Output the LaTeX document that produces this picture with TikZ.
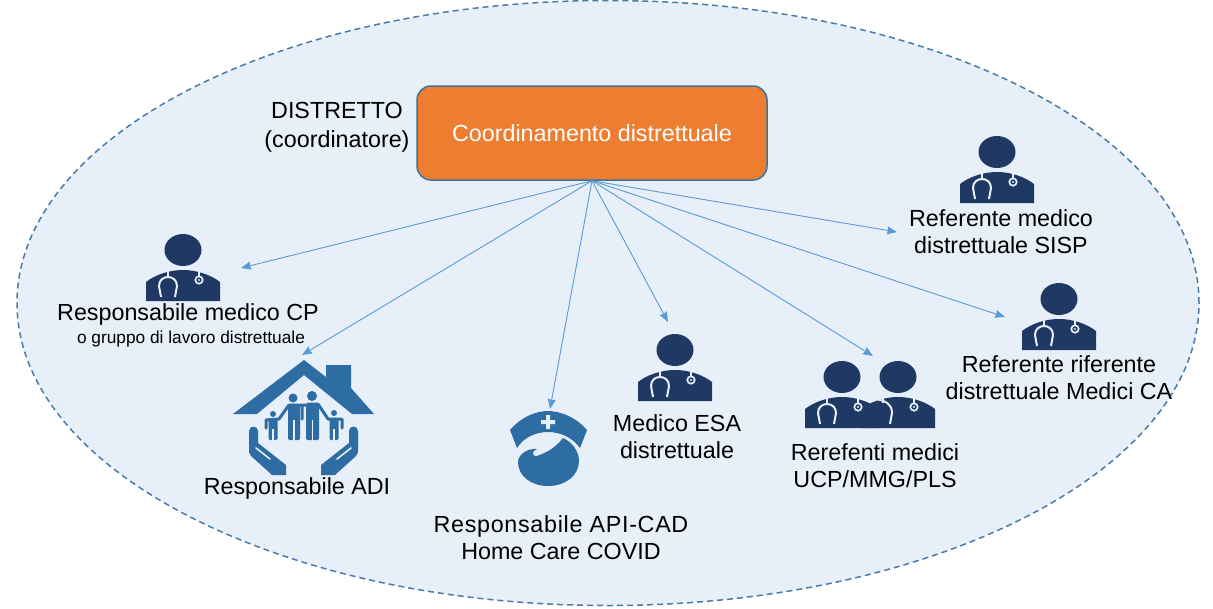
\documentclass[tikz,border=0pt]{standalone}
\usepackage{fontspec}
\setmainfont{Liberation Sans}
\usetikzlibrary{arrows.meta}
\usetikzlibrary{positioning}
\usetikzlibrary{shapes.geometric}

\definecolor{areafill}{HTML}{E7EFF8}
\definecolor{arealine}{HTML}{4A7BAA}
\definecolor{boxfill}{HTML}{ED7D31}
\definecolor{boxline}{HTML}{41719C}
\definecolor{docblue}{HTML}{1F3864}
\definecolor{iconblue}{HTML}{2E6DA4}
\definecolor{linkblue}{HTML}{5B9BD5}

\tikzset{
  lab/.style={align=center,inner sep=0pt,font=\fontsize{23.3}{27}\selectfont},
  smalllab/.style={align=center,inner sep=0pt,font=\fontsize{17.3}{20}\selectfont},
  link/.style={draw=linkblue,line width=0.9pt,->,>={Stealth[length=10pt,width=8pt,inset=1pt]}},
  gap/.style={draw=areafill,line width=2pt,fill=none},
  limb/.style={draw=iconblue,line width=#1,line cap=round,line join=round},
  slit/.style={draw=areafill,line width=1.3pt},
  pics/doctor/.style={code={
    \fill [docblue] (0,0) ellipse [x radius=18.5,y radius=16];
    \fill [docblue] (-37,51) -- (-37,32) .. controls (-28,25) and (-14,20) .. (0,20)
      .. controls (14,20) and (28,25) .. (37,32) -- (37,51) -- cycle;
  }},
  pics/scopeleft/.style={code={
    \draw [gap] (-15,20) -- (-15,27);
    \draw [gap] (-22,47) -- (-24,36) .. controls (-24,24) and (-6,24) .. (-6,36) -- (-8,47);
  }},
  pics/scoperight/.style={code={
    \draw [gap] (16,20) -- (16,27);
    \draw [draw=areafill,line width=1.7pt,fill=docblue] (16,30) circle (3.7);
    \fill [areafill] (16,30) circle (1.2);
  }}
}

\begin{document}
\begin{tikzpicture}[x=1pt,y=-1pt]

  \useasboundingbox (0,0) rectangle (1213,608);

  \node [draw=arealine,fill=areafill,dash pattern=on 6pt off 4pt,line width=1.5pt,ellipse,minimum width=1182,minimum height=605,inner sep=0pt] (area) at (608,303) {};

  \node [draw=boxline,fill=boxfill,rounded corners=14,line width=1.5pt,minimum width=350,minimum height=94,text=white,font=\fontsize{23.3}{27}\selectfont] (coord) at (592,133) {Coordinamento distrettuale};
  \node [lab] (dist) at (337,127) {DISTRETTO\\[2pt](coordinatore)};

  % doctors
  \pic (docCP) at (183,250) {doctor};
  \pic at (183,250) {scopeleft};
  \pic at (183,250) {scoperight};
  \pic (docESA) at (675,350) {doctor};
  \pic at (675,350) {scopeleft};
  \pic at (675,350) {scoperight};
  \pic (docSISP) at (997,152) {doctor};
  \pic at (997,152) {scopeleft};
  \pic at (997,152) {scoperight};
  \pic (docCA) at (1059,299) {doctor};
  \pic at (1059,299) {scopeleft};
  \pic at (1059,299) {scoperight};
  \pic (docUCPa) at (842,377) {doctor};
  \pic (docUCPb) at (898,377) {doctor};
  \pic at (842,377) {scopeleft};
  \pic at (842,377) {scoperight};
  \pic at (898,377) {scoperight};
  \draw [gap] (883,397) -- (883,403);
  \draw [gap] (876,399) .. controls (886,401) and (892,404) .. (892,413) -- (890,424);

  % house
  \fill [iconblue] (233,414) -- (304,360) -- (326,377) -- (326,365) -- (351,365) -- (351,388)
    -- (374,414) -- (352,414) -- (304,375) -- (257,414) -- cycle;
  \fill [iconblue] (293,398) circle (4.5) (312,396) circle (5) (273,414) circle (3) (334,413) circle (3);
  \fill [iconblue,rounded corners=1.5] (288,403.5) rectangle (300,440) (306,402.5) rectangle (319,440)
    (268.5,419) rectangle (277.5,440) (329.5,418) rectangle (338.5,440);
  \path [limb=3pt] (289,405) -- (279,419) -- (266,420) -- (266,428)
    (318,404) -- (328,419) -- (342,419) -- (342,428)
    (300,405) -- (306,405) (302,406) -- (302,419);
  \path [slit] (294,420) -- (294,441) (312.5,420) -- (312.5,441) (273,429) -- (273,441) (334,429) -- (334,441);
  \fill [iconblue] (249,431) arc (180:360:4.5) -- (258,443) -- (286,465) -- (286,475) -- (272,475) -- (251,456)
    .. controls (249,453) .. (249,449) -- cycle;
  \fill [iconblue] (358,431) arc (0:-180:4.5) -- (349,443) -- (321,465) -- (321,475) -- (335,475) -- (356,456)
    .. controls (358,453) .. (358,449) -- cycle;
  \draw [draw=areafill,line width=1.6pt,line cap=round] (256,448) -- (270,459) (351,448) -- (337,459);

  % nurse
  \fill [iconblue] (517,448) -- (510,430) .. controls (520,418) and (535,411) .. (548,411)
    .. controls (561,411) and (577,418) .. (587,430) -- (580,448)
    .. controls (572,437) and (560,432) .. (548,432) .. controls (536,432) and (524,437) .. (517,448) -- cycle;
  \fill [areafill] (546,415) rectangle (550,429) (541,420) rectangle (555,424);
  \fill [iconblue] (518,462) .. controls (518,455) and (527,448) .. (537,449)
    .. controls (531,451) and (532,457) .. (537,456) .. controls (548,452) and (556,447) .. (563,438)
    .. controls (572,442) and (579,451) .. (579,461) .. controls (579,475) and (566,486) .. (548,486)
    .. controls (531,486) and (518,476) .. (518,462) -- cycle;

  % labels
  \node [lab] (labCP) at (188,314) {Responsabile medico CP};
  \node [smalllab,below=6pt of labCP,xshift=3pt] (labCPb) {o gruppo di lavoro distrettuale};
  \node [lab] (labADI) at (297,488) {Responsabile ADI};
  \node [lab] (labAPI) at (561,538) {{\addfontfeature{LetterSpace=3}Responsabile API-CAD}\\Home Care COVID};
  \node [lab] (labESA) at (677,437) {Medico ESA\\distrettuale};
  \node [lab] (labUCP) at (875,466) {Rerefenti medici\\UCP/MMG/PLS};
  \node [lab] (labSISP) at (1001,232) {Referente medico\\distrettuale SISP};
  \node [lab] (labCA) at (1059,378) {Referente riferente\\distrettuale Medici CA};

  \coordinate (toCP) at (241,268);
  \coordinate (toADI) at (302,355);
  \coordinate (toAPI) at (550,409);
  \coordinate (toESA) at (668,322);
  \coordinate (toUCP) at (873,356);
  \coordinate (toCA) at (1005,317);
  \coordinate (toSISP) at (897,232);

  \path
    (coord.south) edge [link] (toCP)
    (coord.south) edge [link] (toADI)
    (coord.south) edge [link] (toAPI)
    (coord.south) edge [link] (toESA)
    (coord.south) edge [link] (toUCP)
    (coord.south) edge [link] (toCA)
    (coord.south) edge [link] (toSISP);

\end{tikzpicture}
\end{document}
